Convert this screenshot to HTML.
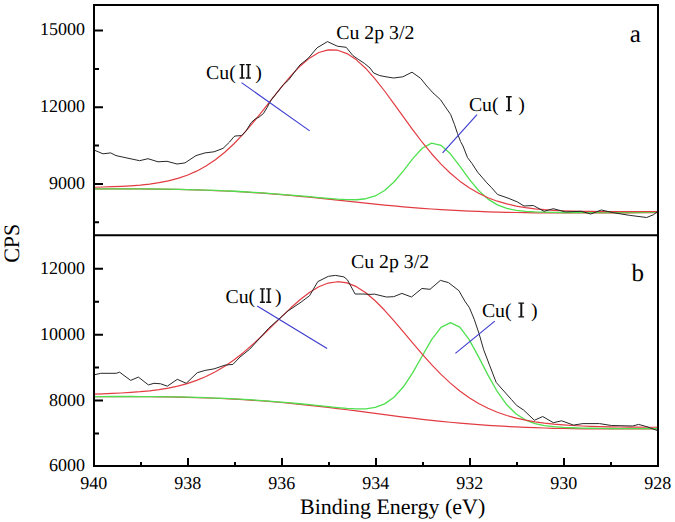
<!DOCTYPE html>
<html><head><meta charset="utf-8"><style>
html,body{margin:0;padding:0;background:#fff;width:675px;height:522px;overflow:hidden}
svg{display:block}
text{font-family:"Liberation Serif",serif;fill:#000;text-rendering:geometricPrecision}
</style></head><body>
<svg width="675" height="522" viewBox="0 0 675 522">
<rect width="675" height="522" fill="#fff"/>
<g fill="none" stroke-width="1.15" stroke-linejoin="round">
<path d="M94.0,188.92 L102.6,188.90 L112.0,188.89 L121.4,188.89 L130.8,188.92 L140.2,188.97 L149.6,189.05 L159.0,189.15 L168.4,189.29 L177.8,189.46 L187.2,189.67 L196.6,189.93 L206.0,190.23 L215.4,190.58 L224.8,190.98 L234.2,191.44 L243.6,191.95 L253.0,192.53 L262.4,193.17 L271.8,193.86 L281.2,194.62 L290.6,195.44 L300.0,196.30 L309.4,197.21 L318.8,198.16 L328.2,199.14 L337.6,200.14 L347.0,201.15 L356.4,202.15 L365.8,203.14 L375.2,204.11 L384.6,205.05 L394.0,205.94 L403.4,206.79 L412.8,207.58 L422.2,208.32 L431.6,208.99 L441.0,209.60 L450.4,210.16 L459.8,210.65 L469.2,211.09 L478.6,211.47 L488.0,211.79 L497.4,212.08 L506.8,212.31 L516.2,212.51 L525.6,212.66 L535.0,212.79 L544.4,212.88 L553.8,212.95 L563.2,212.99 L572.6,213.01 L582.0,213.01 L591.4,212.99 L600.8,212.96 L610.2,212.92 L619.6,212.86 L629.0,212.79 L638.4,212.72 L647.8,212.63 L657.2,212.54 L658.0,212.53" stroke="#e23c42" stroke-width="1.2"/>
<path d="M94.0,396.71 L102.6,396.66 L112.0,396.63 L121.4,396.61 L130.8,396.62 L140.2,396.66 L149.6,396.73 L159.0,396.82 L168.4,396.96 L177.8,397.13 L187.2,397.34 L196.6,397.60 L206.0,397.90 L215.4,398.26 L224.8,398.67 L234.2,399.15 L243.6,399.68 L253.0,400.28 L262.4,400.95 L271.8,401.68 L281.2,402.48 L290.6,403.35 L300.0,404.28 L309.4,405.28 L318.8,406.33 L328.2,407.43 L337.6,408.58 L347.0,409.76 L356.4,410.97 L365.8,412.19 L375.2,413.42 L384.6,414.64 L394.0,415.85 L403.4,417.03 L412.8,418.18 L422.2,419.28 L431.6,420.33 L441.0,421.32 L450.4,422.26 L459.8,423.13 L469.2,423.93 L478.6,424.66 L488.0,425.33 L497.4,425.93 L506.8,426.47 L516.2,426.94 L525.6,427.36 L535.0,427.71 L544.4,428.02 L553.8,428.28 L563.2,428.49 L572.6,428.66 L582.0,428.80 L591.4,428.89 L600.8,428.96 L610.2,429.00 L619.6,429.01 L629.0,428.99 L638.4,428.96 L647.8,428.90 L657.2,428.83 L658.0,428.83" stroke="#e23c42" stroke-width="1.2"/>
<path d="M94.0,188.85 L102.6,188.82 L112.0,188.81 L121.4,188.81 L130.8,188.83 L140.2,188.88 L149.6,188.95 L159.0,189.04 L168.4,189.17 L177.8,189.34 L187.2,189.54 L196.6,189.78 L206.0,190.07 L215.4,190.40 L224.8,190.79 L234.2,191.23 L243.6,191.73 L253.0,192.28 L262.4,192.89 L271.8,193.56 L281.2,194.28 L290.6,195.05 L300.0,195.86 L309.4,196.71 L318.8,197.57 L328.2,198.41 L337.6,199.18 L347.0,199.72 L356.4,199.75 L365.8,198.74 L375.2,195.94 L384.6,190.54 L394.0,182.04 L403.4,170.83 L412.8,158.60 L422.2,148.26 L431.6,143.17 L441.0,145.31 L450.4,153.82 L459.8,166.09 L469.2,179.08 L478.6,190.48 L488.0,199.12 L497.4,204.89 L506.8,208.37 L516.2,210.29 L525.6,211.31 L535.0,211.85 L544.4,212.16 L553.8,212.35 L563.2,212.48 L572.6,212.57 L582.0,212.62 L591.4,212.65 L600.8,212.65 L610.2,212.64 L619.6,212.61 L629.0,212.56 L638.4,212.50 L647.8,212.44 L657.2,212.36 L658.0,212.35" stroke="#4ee04e" stroke-width="1.3"/>
<path d="M94.0,396.61 L102.6,396.56 L112.0,396.52 L121.4,396.50 L130.8,396.50 L140.2,396.53 L149.6,396.58 L159.0,396.67 L168.4,396.79 L177.8,396.95 L187.2,397.15 L196.6,397.40 L206.0,397.69 L215.4,398.03 L224.8,398.42 L234.2,398.88 L243.6,399.39 L253.0,399.96 L262.4,400.59 L271.8,401.29 L281.2,402.05 L290.6,402.87 L300.0,403.74 L309.4,404.66 L318.8,405.63 L328.2,406.61 L337.6,407.56 L347.0,408.40 L356.4,408.93 L365.8,408.79 L375.2,407.38 L384.6,403.85 L394.0,397.22 L403.4,386.79 L412.8,372.59 L422.2,355.97 L431.6,339.64 L441.0,327.32 L450.4,322.60 L459.8,327.13 L469.2,339.61 L478.6,356.84 L488.0,375.17 L497.4,391.70 L506.8,404.79 L516.2,414.06 L525.6,420.03 L535.0,423.59 L544.4,425.60 L553.8,426.72 L563.2,427.37 L572.6,427.77 L582.0,428.05 L591.4,428.24 L600.8,428.39 L610.2,428.48 L619.6,428.55 L629.0,428.58 L638.4,428.58 L647.8,428.56 L657.2,428.52 L658.0,428.52" stroke="#4ee04e" stroke-width="1.3"/>
<path d="M94.0,187.25 L102.6,187.02 L112.0,186.72 L121.4,186.32 L130.8,185.79 L140.2,185.06 L149.6,184.07 L159.0,182.71 L168.4,180.88 L177.8,178.44 L187.2,175.25 L196.6,171.16 L206.0,166.04 L215.4,159.76 L224.8,152.25 L234.2,143.51 L243.6,133.61 L253.0,122.71 L262.4,111.09 L271.8,99.12 L281.2,87.27 L290.6,76.09 L300.0,66.18 L309.4,58.15 L318.8,52.54 L328.2,49.80 L337.6,50.20 L347.0,53.62 L356.4,59.82 L365.8,68.45 L375.2,79.03 L384.6,91.00 L394.0,103.82 L403.4,116.94 L412.8,129.88 L422.2,142.24 L431.6,153.73 L441.0,164.11 L450.4,173.26 L459.8,181.14 L469.2,187.78 L478.6,193.26 L488.0,197.69 L497.4,201.20 L506.8,203.94 L516.2,206.04 L525.6,207.62 L535.0,208.80 L544.4,209.67 L553.8,210.30 L563.2,210.76 L572.6,211.08 L582.0,211.31 L591.4,211.46 L600.8,211.57 L610.2,211.63 L619.6,211.67 L629.0,211.68 L638.4,211.67 L647.8,211.65 L657.2,211.61 L658.0,211.60" stroke="#e23c42" stroke-width="1.2"/>
<path d="M94.0,394.13 L102.6,393.83 L112.0,393.45 L121.4,393.00 L130.8,392.43 L140.2,391.72 L149.6,390.80 L159.0,389.61 L168.4,388.07 L177.8,386.09 L187.2,383.57 L196.6,380.41 L206.0,376.52 L215.4,371.81 L224.8,366.23 L234.2,359.75 L243.6,352.41 L253.0,344.28 L262.4,335.53 L271.8,326.37 L281.2,317.10 L290.6,308.06 L300.0,299.68 L309.4,292.42 L318.8,286.73 L328.2,283.05 L337.6,281.72 L347.0,282.93 L356.4,286.67 L365.8,292.73 L375.2,300.75 L384.6,310.28 L394.0,320.83 L403.4,331.94 L412.8,343.18 L422.2,354.18 L431.6,364.64 L441.0,374.34 L450.4,383.13 L459.8,390.92 L469.2,397.69 L478.6,403.47 L488.0,408.30 L497.4,412.29 L506.8,415.54 L516.2,418.14 L525.6,420.21 L535.0,421.85 L544.4,423.12 L553.8,424.12 L563.2,424.90 L572.6,425.51 L582.0,425.98 L591.4,426.34 L600.8,426.62 L610.2,426.84 L619.6,427.00 L629.0,427.12 L638.4,427.20 L647.8,427.25 L657.2,427.27 L658.0,427.27" stroke="#e23c42" stroke-width="1.2"/>
<path d="M94.0,150.0 L103.0,153.8 L110.7,152.9 L116.0,155.6 L127.0,158.0 L139.6,160.7 L148.0,158.7 L158.0,161.8 L167.0,161.3 L177.0,164.0 L185.0,162.9 L196.0,155.6 L205.0,152.9 L214.0,151.8 L223.0,148.4 L229.6,142.0 L233.5,137.2 L235.0,136.0 L241.6,135.6 L246.2,130.8 L251.1,122.7 L255.1,119.0 L259.2,117.0 L263.3,113.7 L267.3,107.2 L270.6,100.7 L277.1,92.6 L283.6,84.4 L288.5,80.1 L296.5,69.4 L300.0,64.9 L308.3,58.2 L317.1,47.8 L327.5,41.6 L337.3,46.2 L346.2,47.3 L352.9,55.6 L358.1,59.2 L364.3,63.3 L370.0,68.0 L373.7,73.0 L379.8,75.6 L386.0,76.8 L393.6,78.0 L402.8,76.8 L412.0,72.2 L420.7,78.4 L426.8,86.0 L433.0,92.9 L440.6,99.8 L445.2,106.7 L450.6,114.4 L454.4,124.3 L457.5,133.5 L460.5,141.5 L463.0,146.0 L467.5,157.6 L472.0,163.5 L477.6,172.1 L486.8,182.8 L491.3,187.4 L497.6,194.5 L509.1,198.5 L517.7,202.1 L524.0,206.0 L533.3,205.5 L544.0,211.3 L553.3,208.7 L565.3,211.9 L581.3,211.3 L590.7,214.0 L601.3,210.0 L613.3,212.7 L629.3,215.3 L646.7,217.5 L653.3,214.8 L658.0,211.3" stroke="#282828" stroke-width="1.0"/>
<path d="M94.0,374.9 L100.7,373.3 L116.2,373.3 L119.6,372.2 L130.7,380.4 L138.4,377.1 L148.4,384.9 L154.0,383.3 L160.7,383.8 L167.3,386.2 L177.3,379.3 L186.2,383.3 L197.3,372.7 L205.1,370.4 L214.0,368.9 L225.1,365.1 L232.9,364.4 L240.0,357.0 L249.6,349.3 L259.2,338.8 L268.7,328.2 L278.3,319.6 L287.9,311.0 L300.0,302.9 L309.5,295.8 L317.8,281.6 L328.4,276.3 L335.6,275.4 L343.9,276.9 L347.4,279.8 L355.1,294.0 L362.8,294.0 L370.0,294.4 L374.4,294.1 L386.3,297.0 L393.7,296.7 L401.9,293.4 L411.5,297.0 L421.9,288.5 L430.0,289.3 L440.4,280.4 L448.5,282.6 L458.9,290.7 L464.8,301.1 L469.4,307.7 L474.2,319.2 L479.0,333.5 L483.7,349.8 L489.5,365.1 L496.2,382.4 L502.9,390.0 L511.5,399.6 L516.6,405.4 L523.7,410.1 L534.4,420.3 L542.7,416.5 L553.3,422.7 L561.6,420.8 L573.5,425.1 L582.9,423.6 L599.5,423.6 L611.4,425.5 L632.7,426.0 L638.6,424.4 L646.9,426.7 L658.0,430.8" stroke="#282828" stroke-width="1.0"/>
<line x1="241.5" y1="82.6" x2="309.7" y2="130.9" stroke="#3c3cd0" stroke-width="1.15"/>
<line x1="257.2" y1="306" x2="327.1" y2="348.4" stroke="#3c3cd0" stroke-width="1.15"/>
<line x1="442.6" y1="152.8" x2="477" y2="114.6" stroke="#3c3cd0" stroke-width="1.15"/>
<line x1="455.4" y1="353.4" x2="494.8" y2="321.1" stroke="#3c3cd0" stroke-width="1.15"/>
</g>
<path d="M94,4 V467 M93,5 H659 M658,4 V467 M93,466 H659 M93,235.3 H659" stroke="#000" stroke-width="2" fill="none"/>
<path d="M95,30.5 H103 M95,107.2 H103 M95,183.9 H103 M95,68.9 H99 M95,145.6 H99 M95,222.3 H99 M95,268.8 H103 M95,334.7 H103 M95,400.6 H103 M95,301.8 H99 M95,367.6 H99 M95,433.6 H99 M188.0,465 V458 M282.0,465 V458 M376.0,465 V458 M470.0,465 V458 M564.0,465 V458 M141.0,465 V462 M235.0,465 V462 M329.0,465 V462 M423.0,465 V462 M517.0,465 V462 M611.0,465 V462" stroke="#000" stroke-width="2" fill="none"/>
<text x="40.08 49.08 58.08 67.08 76.08" y="35.40" font-size="18">15000</text>
<text x="40.08 49.08 58.08 67.08 76.08" y="112.10" font-size="18">12000</text>
<text x="49.08 58.08 67.08 76.08" y="188.80" font-size="18">9000</text>
<text x="40.08 49.08 58.08 67.08 76.08" y="273.70" font-size="18">12000</text>
<text x="40.08 49.08 58.08 67.08 76.08" y="339.60" font-size="18">10000</text>
<text x="49.08 58.08 67.08 76.08" y="405.50" font-size="18">8000</text>
<text x="49.08 58.08 67.08 76.08" y="471.40" font-size="18">6000</text>
<text x="80.35 89.35 98.35" y="488.8" font-size="18">940</text>
<text x="174.35 183.35 192.35" y="488.8" font-size="18">938</text>
<text x="268.35 277.35 286.35" y="488.8" font-size="18">936</text>
<text x="362.35 371.35 380.35" y="488.8" font-size="18">934</text>
<text x="456.35 465.35 474.35" y="488.8" font-size="18">932</text>
<text x="550.35 559.35 568.35" y="488.8" font-size="18">930</text>
<text x="644.35 653.35 662.35" y="488.8" font-size="18">928</text>
<text x="0" y="0" font-size="22" transform="translate(19.0,262.8) rotate(-90)">CPS</text>
<text x="300" y="513.5" font-size="22">Binding Energy (eV)</text>
<text x="336.3" y="38.7" font-size="19.8">Cu 2p 3/2</text>
<text x="351.1" y="268.1" font-size="19.8">Cu 2p 3/2</text>
<text x="206.1" y="78.5" font-size="19.8">Cu(</text>
<text x="255.3" y="78.5" font-size="19.8">)</text>
<text x="225.5" y="302.8" font-size="19.8">Cu(</text>
<text x="275.0" y="302.8" font-size="19.8">)</text>
<text x="468.9" y="111.1" font-size="19.8">Cu(</text>
<text x="518.2" y="111.1" font-size="19.8">)</text>
<text x="481.9" y="316.7" font-size="19.8">Cu(</text>
<text x="531.0" y="316.7" font-size="19.8">)</text>
<text x="629.7" y="41.85" font-size="25">a</text>
<text x="631.6" y="281.35" font-size="25">b</text>
<g fill="#111">
<path d="M239.6,64 h5 v1.3 h-1.6 v12 h1.6 v1.4 h-5 v-1.4 h1.6 v-12 h-1.6z M245.9,64 h5 v1.3 h-1.6 v12 h1.6 v1.4 h-5 v-1.4 h1.6 v-12 h-1.6z"/>
<path d="M259.9,288.3 h5 v1.3 h-1.6 v12 h1.6 v1.4 h-5 v-1.4 h1.6 v-12 h-1.6z M266.2,288.3 h5 v1.3 h-1.6 v12 h1.6 v1.4 h-5 v-1.4 h1.6 v-12 h-1.6z"/>
<path d="M506,96.1 h5.7 v1.3 h-1.8 v12.5 h1.8 v1.4 h-5.7 v-1.4 h1.9 v-12.5 h-1.9z"/>
<path d="M518.4,302.4 h5.7 v1.3 h-1.8 v12.5 h1.8 v1.4 h-5.7 v-1.4 h1.9 v-12.5 h-1.9z"/>
</g>

</svg>
</body></html>
